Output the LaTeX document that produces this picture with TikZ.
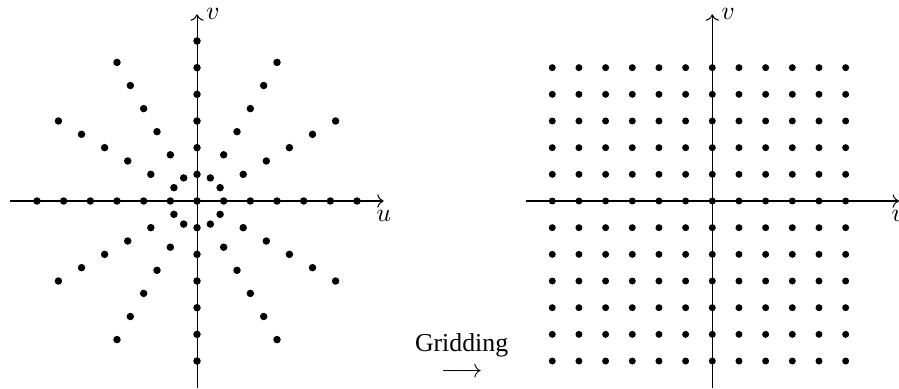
\documentclass[tikz,border=0pt]{standalone}
\usepackage{fontspec}
\setmainfont{Liberation Serif}
\usetikzlibrary{arrows.meta}

\tikzset{
  axis/.style={->,line width=0.4pt},
  polardot/.style={fill=black},
  griddot/.style={fill=black},
}

\begin{document}
\begin{tikzpicture}[x=10.34pt,y=10.34pt]
  \useasboundingbox (-7.387,-7.012) rectangle (26.32,7.537);

  % polar samples
  \coordinate (L-w) at (-7,0);
  \coordinate (L-e) at (7,0);
  \coordinate (L-s) at (0,-7);
  \coordinate (L-n) at (0,7);
  \draw[axis] (L-w) -- (L-e);
  \draw[axis] (L-s) -- (L-n);
  \node[anchor=north] (L-u) at (L-e) {$u$};
  \node[anchor=west] (L-v) at (L-n) {$v$};
  \fill[polardot] (0,0) circle (1.45pt);
  \foreach \a in {0,30,...,330}{
    \foreach \r in {1,...,6}{
      \fill[polardot] (\a:\r) circle (1.45pt);
    }
  }

  % cartesian grid
  \begin{scope}[shift={(19.32,0)}]
    \coordinate (R-w) at (-7,0);
    \coordinate (R-e) at (7,0);
    \coordinate (R-s) at (0,-7);
    \coordinate (R-n) at (0,7);
    \draw[axis] (R-w) -- (R-e);
    \draw[axis] (R-s) -- (R-n);
    \node[anchor=north] (R-u) at (R-e) {$u$};
    \node[anchor=west] (R-v) at (R-n) {$v$};
    \foreach \i in {-6,...,5}{
      \foreach \j in {-6,...,5}{
        \fill[griddot] (\i,\j) circle (1.35pt);
      }
    }
  \end{scope}

  \node[inner sep=1pt] (gridtxt) at (9.92,-5.4) {Gridding};
  \node[inner sep=1pt] (gridarr) at (9.92,-6.45) {$\longrightarrow$};
\end{tikzpicture}
\end{document}
